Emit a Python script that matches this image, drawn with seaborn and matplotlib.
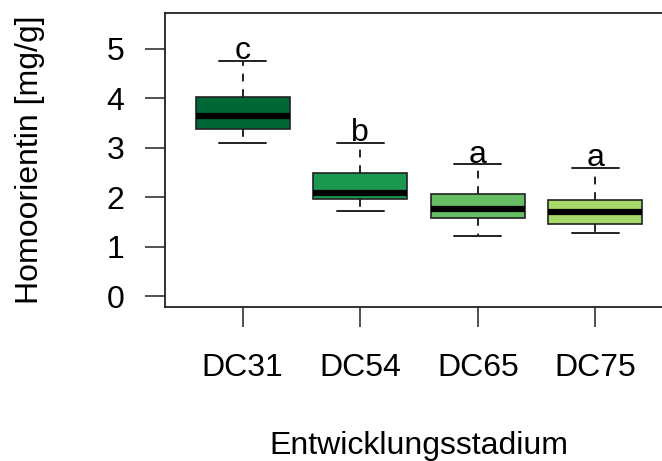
import numpy as np
import pandas as pd
import matplotlib
matplotlib.use("Agg")
import matplotlib.pyplot as plt
import seaborn as sns

# Five-number summaries
stages = ["DC31", "DC54", "DC65", "DC75"]
lower_whisker = [3.09, 1.72, 1.21, 1.27]
q1 = [3.37, 1.97, 1.57, 1.46]
median = [3.64, 2.09, 1.75, 1.70]
q3 = [4.02, 2.49, 2.07, 1.95]
upper_whisker = [4.75, 3.09, 2.66, 2.59]
letters = ["c", "b", "a", "a"]
colors = ["#006837", "#1A9850", "#66BD63", "#A6D96A"]

rows = []
for i, s in enumerate(stages):
    for v in (lower_whisker[i], q1[i], median[i], q3[i], upper_whisker[i]):
        rows.append({"stage": s, "value": v})
df = pd.DataFrame(rows)

sns.set_style("white")
plt.rcParams["font.family"] = ["Liberation Sans", "DejaVu Sans"]
plt.rcParams["text.color"] = "black"
plt.rcParams["axes.labelcolor"] = "black"
plt.rcParams["xtick.color"] = "black"
plt.rcParams["ytick.color"] = "black"

fig = plt.figure(figsize=(6.62, 4.61), dpi=100)
W, H = 662, 461
ax = fig.add_axes([165 / W, (H - 307) / H, (673 - 165) / W, (307 - 13) / H])

sns.boxplot(
    data=df, x="stage", y="value", hue="stage", palette=colors, legend=False,
    order=stages, width=0.8, whis=(0, 100), ax=ax, saturation=1,
    boxprops=dict(edgecolor="#222222", linewidth=1.2),
    whiskerprops=dict(color="#222222", linewidth=1.4, linestyle=(0, (4, 4))),
    capprops=dict(color="#222222", linewidth=1.4),
    medianprops=dict(color="black", linewidth=4.5),
    showfliers=False,
)

fs = 23
for i, lab in enumerate(letters):
    ax.text(i, upper_whisker[i] + 0.2, lab, ha="center", va="center", fontsize=fs, color="black")

ax.set_xlim(-0.66, 3.66)
ax.set_ylim(-0.22, 5.72)
ax.set_yticks([0, 1, 2, 3, 4, 5])
ax.set_yticklabels(["0", "1", "2", "3", "4", "5"])
ax.tick_params(axis="both", direction="out", length=14.4, width=1.1, color="#222222",
               labelsize=fs, labelcolor="black", left=True, bottom=True)
ax.tick_params(axis="y", pad=15)
ax.tick_params(axis="x", pad=19)
for sp in ax.spines.values():
    sp.set_visible(True)
    sp.set_color("#222222")
    sp.set_linewidth(1.3)

ax.set_xlabel("Entwicklungsstadium", fontsize=fs, labelpad=34)
ax.set_ylabel("Homoorientin [mg/g]", fontsize=fs, labelpad=44)

fig.savefig("out.png", dpi=100)
